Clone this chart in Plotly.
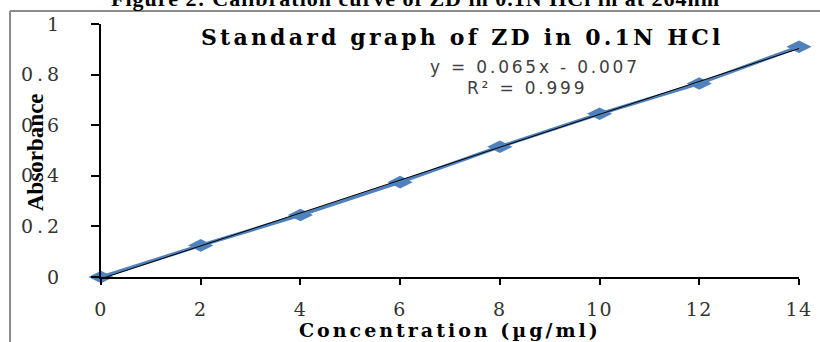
import plotly.graph_objects as go

# Data
concentration = [0, 2, 4, 6, 8, 10, 12, 14]
absorbance = [0.0, 0.125, 0.245, 0.375, 0.515, 0.645, 0.765, 0.91]
slope = 0.065
intercept = -0.007
x_ticks = [0, 2, 4, 6, 8, 10, 12, 14]
x_tick_labels = ["0", "2", "4", "6", "8", "10", "12", "14"]
y_ticks = [0, 0.2, 0.4, 0.6, 0.8, 1]
y_tick_labels = ["0", "0.2", "0.4", "0.6", "0.8", "1"]

trend_x = [concentration[0], concentration[-1]]
trend_y = [slope * v + intercept for v in trend_x]

W, H = 820, 342
L, R, T, B = 101, 21, 24, 65
pw = W - L - R
ph = H - T - B

def px(x):
    return (x - L) / pw

def py(y):
    return (H - B - y) / ph

def spaced(t, sp):
    return f'<span style="letter-spacing:{sp}px">{t}</span>'

fig = go.Figure()
fig.add_trace(go.Scatter(
    x=concentration, y=absorbance, mode="lines+markers",
    line=dict(color="#4F81BD", width=3.5),
    marker=dict(symbol="diamond-wide", size=18, color="#4F81BD"),
    cliponaxis=False, showlegend=False,
))
fig.add_trace(go.Scatter(
    x=trend_x, y=trend_y, mode="lines",
    line=dict(color="#000000", width=1),
    showlegend=False,
))

serif = "Liberation Serif, Times New Roman, serif"
wide_serif = "DejaVu Serif, serif"

fig.update_layout(
    width=W, height=H,
    margin=dict(l=L, r=R, t=T, b=B, autoexpand=False),
    paper_bgcolor="white", plot_bgcolor="white",
    xaxis=dict(
        range=[0, 14], tickvals=x_ticks,
        ticktext=[spaced(t, 1.5) for t in x_tick_labels],
        showgrid=False, zeroline=False,
        showline=True, linecolor="black", linewidth=2,
        ticks="outside", ticklen=6, tickwidth=2, tickcolor="black",
        tickfont=dict(family=wide_serif, size=19, color="#333"),
        ticklabelstandoff=8, automargin=False,
    ),
    yaxis=dict(
        range=[0, 1], tickvals=y_ticks,
        ticktext=[spaced(t, 4) for t in y_tick_labels],
        showgrid=False, zeroline=False,
        showline=True, linecolor="black", linewidth=2,
        ticks="outside", ticklen=8, tickwidth=2, tickcolor="black",
        tickfont=dict(family=wide_serif, size=19, color="#333"),
        ticklabelstandoff=24, automargin=False,
    ),
    shapes=[
        dict(type="line", xref="paper", yref="paper",
             x0=px(10), x1=px(10), y0=py(11), y1=py(360),
             line=dict(color="#8c8c8c", width=2)),
        dict(type="line", xref="paper", yref="paper",
             x0=px(10), x1=px(840), y0=py(11), y1=py(11),
             line=dict(color="#8c8c8c", width=2)),
    ],
    annotations=[
        dict(text=spaced("<b>Figure 2: Calibration curve of ZD in 0.1N HCl in at 264nm</b>", 1),
             xref="paper", yref="paper", x=px(415), y=py(13), xanchor="center", yanchor="bottom",
             showarrow=False, font=dict(family=serif, size=22, color="black")),
        dict(text=spaced("<b>Standard graph of ZD in 0.1N HCl</b>", 3.2),
             xref="paper", yref="paper", x=px(462), y=py(37), xanchor="center", yanchor="middle",
             showarrow=False, font=dict(family=wide_serif, size=22, color="black")),
        dict(text=spaced("y = 0.065x - 0.007", 2.8),
             xref="paper", yref="paper", x=px(535), y=py(67), xanchor="center", yanchor="middle",
             showarrow=False, font=dict(family="DejaVu Sans, sans-serif", size=17, color="#404040")),
        dict(text=spaced("R² = 0.999", 2.8),
             xref="paper", yref="paper", x=px(527), y=py(88), xanchor="center", yanchor="middle",
             showarrow=False, font=dict(family="DejaVu Sans, sans-serif", size=17, color="#404040")),
        dict(text=spaced("<b>Concentration (µg/ml)</b>", 3),
             xref="paper", yref="paper", x=px(450), y=py(330), xanchor="center", yanchor="middle",
             showarrow=False, font=dict(family=wide_serif, size=19, color="black")),
        dict(text="<b>Absorbance</b>",
             xref="paper", yref="paper", x=px(35), y=py(152), xanchor="center", yanchor="middle",
             textangle=-90, showarrow=False, font=dict(family=serif, size=23, color="black")),
    ],
)

fig.write_html("out.html", config={"displayModeBar": False},
               post_script="document.body.style.margin='0';")
